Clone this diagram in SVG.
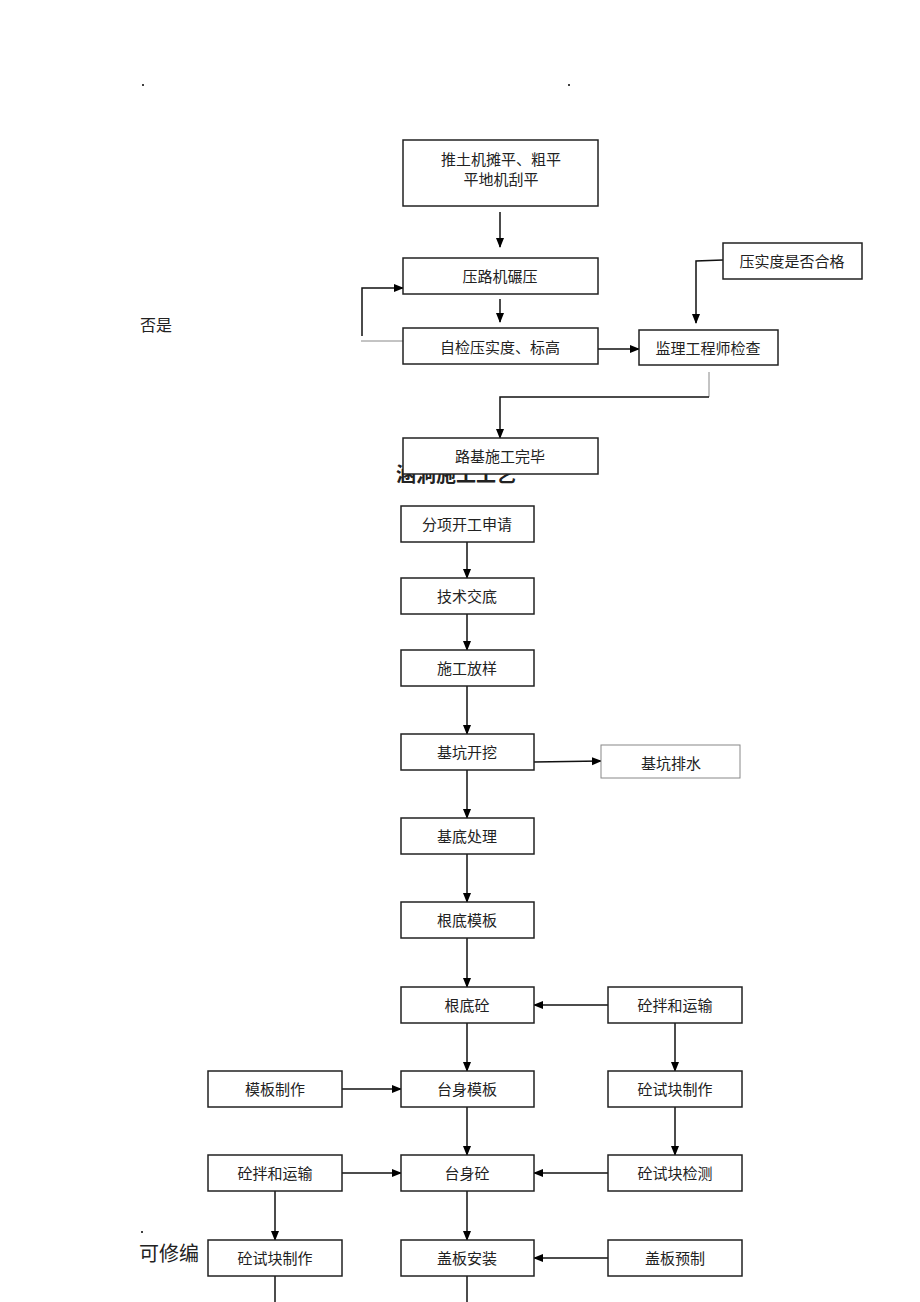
<svg xmlns="http://www.w3.org/2000/svg" width="920" height="1302" viewBox="0 0 920 1302">
<defs>
<marker id="ah" markerWidth="10" markerHeight="10" refX="9" refY="5" orient="auto" markerUnits="userSpaceOnUse">
<path d="M0,1 L10,5 L0,9 Z" fill="#000"/>
</marker>
<style>
.box{fill:#fff;stroke:#222;stroke-width:1.5}
.gbox{fill:#fff;stroke:#888;stroke-width:1}
.t{font-family:"Noto Sans CJK SC","Noto Sans",sans-serif;font-size:15px;fill:#222;text-anchor:middle;dominant-baseline:central}
.c{fill:none;stroke:#111;stroke-width:1.5}
.g{fill:none;stroke:#888;stroke-width:1}
.a{marker-end:url(#ah)}
.lbl{font-family:"Noto Sans CJK SC","Noto Sans",sans-serif;fill:#222}
</style>
</defs>
<rect width="920" height="1302" fill="#fff"/>
<g id="marks">
<circle cx="143" cy="85" r="1" fill="#000"/>
<circle cx="569" cy="85" r="1" fill="#000"/>
<circle cx="142" cy="1232" r="1" fill="#000"/>
<text class="lbl" x="140" y="331" font-size="16">否是</text>
<text class="lbl" x="139" y="1261" font-size="20">可修编</text>
<text class="lbl" x="396" y="482" font-size="20" font-weight="bold">涵洞施工工艺</text>
</g>
<g id="connectors">
<line class="c a" x1="500" y1="212" x2="500" y2="247"/>
<line class="c a" x1="500" y1="299" x2="500" y2="322"/>
<polyline class="c a" points="362,336 362,288 403,288"/>
<line class="g" x1="361" y1="341" x2="403" y2="341"/>
<line class="c a" x1="598" y1="349" x2="639" y2="349"/>
<polyline class="c a" points="723,260 696,261 696,323"/>
<line class="g" x1="709" y1="372" x2="709" y2="397"/>
<polyline class="c a" points="709,397 500,397 500,438"/>
<line class="c a" x1="467" y1="542" x2="467" y2="578"/>
<line class="c a" x1="467" y1="614" x2="467" y2="650"/>
<line class="c a" x1="467" y1="686" x2="467" y2="734"/>
<line class="c a" x1="534" y1="762" x2="601" y2="761"/>
<line class="c a" x1="467" y1="770" x2="467" y2="818"/>
<line class="c a" x1="467" y1="854" x2="467" y2="902"/>
<line class="c a" x1="467" y1="938" x2="467" y2="987"/>
<line class="c a" x1="608" y1="1005" x2="534" y2="1005"/>
<line class="c a" x1="467" y1="1023" x2="467" y2="1071"/>
<line class="c a" x1="675" y1="1023" x2="675" y2="1071"/>
<line class="c a" x1="342" y1="1089" x2="401" y2="1089"/>
<line class="c a" x1="467" y1="1107" x2="467" y2="1155"/>
<line class="c a" x1="675" y1="1107" x2="675" y2="1155"/>
<line class="c a" x1="342" y1="1173" x2="401" y2="1173"/>
<line class="c a" x1="608" y1="1173" x2="534" y2="1173"/>
<line class="c a" x1="275" y1="1191" x2="275" y2="1240"/>
<line class="c a" x1="467" y1="1191" x2="467" y2="1240"/>
<line class="c a" x1="608" y1="1258" x2="534" y2="1258"/>
<line class="c" x1="275" y1="1276" x2="275" y2="1302"/>
<line class="c" x1="467" y1="1276" x2="467" y2="1302"/>
</g>
<g id="n1"><rect class="box" x="403" y="140" width="195" height="66"/><text class="t" x="501" y="158">推土机摊平、粗平</text><text class="t" x="501" y="178">平地机刮平</text></g>
<g id="n2"><rect class="box" x="403" y="258" width="195" height="36"/><text class="t" x="500" y="275">压路机碾压</text></g>
<g id="n3"><rect class="box" x="403" y="328" width="195" height="36"/><text class="t" x="500" y="346">自检压实度、标高</text></g>
<g id="n4"><rect class="box" x="639" y="330" width="139" height="35"/><text class="t" x="708" y="347">监理工程师检查</text></g>
<g id="n5"><rect class="box" x="723" y="243" width="139" height="36"/><text class="t" x="792" y="260">压实度是否合格</text></g>
<g id="n6"><rect class="box" x="403" y="438" width="195" height="36"/><text class="t" x="500" y="455">路基施工完毕</text></g>
<g id="n7"><rect class="box" x="401" y="506" width="133" height="36"/><text class="t" x="467" y="523">分项开工申请</text></g>
<g id="n8"><rect class="box" x="401" y="578" width="133" height="36"/><text class="t" x="467" y="595">技术交底</text></g>
<g id="n9"><rect class="box" x="401" y="650" width="133" height="36"/><text class="t" x="467" y="667">施工放样</text></g>
<g id="n10"><rect class="box" x="401" y="734" width="133" height="36"/><text class="t" x="467" y="751">基坑开挖</text></g>
<g id="n11"><rect class="gbox" x="601" y="745" width="139" height="33"/><text class="t" x="671" y="762">基坑排水</text></g>
<g id="n12"><rect class="box" x="401" y="818" width="133" height="36"/><text class="t" x="467" y="835">基底处理</text></g>
<g id="n13"><rect class="box" x="401" y="902" width="133" height="36"/><text class="t" x="467" y="919">根底模板</text></g>
<g id="n14"><rect class="box" x="401" y="987" width="133" height="36"/><text class="t" x="467" y="1004">根底砼</text></g>
<g id="n15"><rect class="box" x="608" y="987" width="134" height="36"/><text class="t" x="675" y="1004">砼拌和运输</text></g>
<g id="n16"><rect class="box" x="401" y="1071" width="133" height="36"/><text class="t" x="467" y="1088">台身模板</text></g>
<g id="n17"><rect class="box" x="608" y="1071" width="134" height="36"/><text class="t" x="675" y="1088">砼试块制作</text></g>
<g id="n18"><rect class="box" x="208" y="1071" width="134" height="36"/><text class="t" x="275" y="1088">模板制作</text></g>
<g id="n19"><rect class="box" x="401" y="1155" width="133" height="36"/><text class="t" x="467" y="1172">台身砼</text></g>
<g id="n20"><rect class="box" x="608" y="1155" width="134" height="36"/><text class="t" x="675" y="1172">砼试块检测</text></g>
<g id="n21"><rect class="box" x="208" y="1155" width="134" height="36"/><text class="t" x="275" y="1172">砼拌和运输</text></g>
<g id="n22"><rect class="box" x="401" y="1240" width="133" height="36"/><text class="t" x="467" y="1257">盖板安装</text></g>
<g id="n23"><rect class="box" x="608" y="1240" width="134" height="36"/><text class="t" x="675" y="1257">盖板预制</text></g>
<g id="n24"><rect class="box" x="208" y="1240" width="134" height="36"/><text class="t" x="275" y="1257">砼试块制作</text></g>
</svg>
